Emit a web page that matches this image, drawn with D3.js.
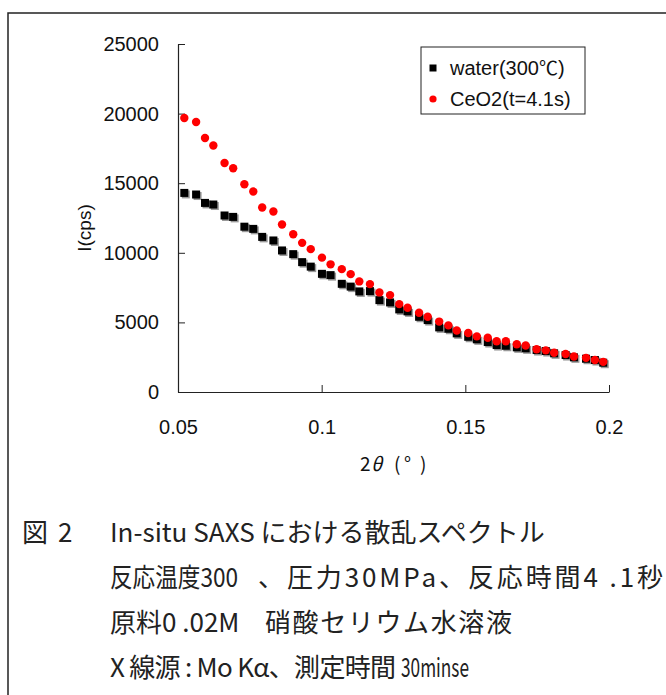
<!DOCTYPE html>
<html><head><meta charset="utf-8">
<script src="https://cdn.jsdelivr.net/npm/d3@7"></script>
<style>body{margin:0;background:#fff}svg{display:block}</style>
</head><body>
<script>
// 2θ (deg)
const xVals = [0.0522,0.0563,0.0594,0.0623,0.0662,0.0692,0.0731,0.0762,0.0793,0.0832,0.0862,0.0901,0.0932,0.0962,0.1001,0.1031,0.1070,0.1101,0.1131,0.1168,0.1201,0.1238,0.1270,0.1299,0.1339,0.1369,0.1409,0.1441,0.1470,0.1510,0.1540,0.1578,0.1609,0.1641,0.1679,0.1710,0.1748,0.1780,0.1809,0.1849,0.1878,0.1920,0.1951,0.1980];
// I (cps)
const waterVals = [14302,14187,13584,13469,12680,12580,11876,11718,11144,10886,10168,9903,9329,9006,8489,8396,7772,7571,7226,7248,6602,6437,5935,5791,5404,5167,4643,4542,4212,3968,3782,3588,3373,3322,3208,3136,3014,2942,2777,2655,2490,2390,2296,2103];
const ceo2Vals = [19684,19397,18249,17703,16455,16074,14926,14402,13254,12967,12034,11338,10714,10262,9652,9171,8826,8468,7944,7750,7154,6961,6315,6049,5691,5404,5059,4786,4413,4234,3997,3897,3645,3645,3430,3337,3071,2992,2820,2727,2547,2454,2296,2167];
const xTicks = [0.05,0.1,0.15,0.2];
const xTickLabels = ["0.05","0.1","0.15","0.2"];
const yTicks = [0,5000,10000,15000,20000,25000];
const yTickLabels = ["0","5000","10000","15000","20000","25000"];
const seriesNames = ["water(300", "CeO2(t=4.1s)"];

const W = 666, H = 695;
const svg = d3.select("body").append("svg").attr("width", W).attr("height", H);
svg.append("rect").attr("width", W).attr("height", H).attr("fill", "#fff");

// frame
svg.append("path").attr("d", `M8,${H} L8,13 L${W},13`).attr("fill","none").attr("stroke","#222").attr("stroke-width",1.5);

const x = d3.scaleLinear().domain([0.05,0.2]).range([178,609]);
const y = d3.scaleLinear().domain([0,25000]).range([392,44]);
const latin = "'Liberation Sans', Arial, sans-serif";
const cjk = "'Noto Sans CJK JP', sans-serif";

const xAxis = d3.axisBottom(x).tickValues(xTicks).tickFormat((d,i)=>xTickLabels[i]).tickSizeInner(-7).tickSizeOuter(0).tickPadding(28);
const gx = svg.append("g").attr("transform","translate(0,392)").call(xAxis);
const yAxis = d3.axisLeft(y).tickValues(yTicks).tickFormat((d,i)=>yTickLabels[i]).tickSizeInner(-7).tickSizeOuter(0).tickPadding(19);
const gy = svg.append("g").attr("transform","translate(178,0)").call(yAxis);
[gx,gy].forEach(g=>{
  g.select(".domain").attr("stroke","#222").attr("stroke-width",1.2);
  g.selectAll(".tick line").attr("stroke","#222").attr("stroke-width",1);
  g.selectAll(".tick text").attr("font-family",latin).attr("font-size",20).attr("fill","#111");
});

// axis titles
svg.append("text").attr("transform","translate(91,228) rotate(-90)").attr("text-anchor","middle")
  .attr("font-family",latin).attr("font-size",19).attr("fill","#111").text("I(cps)");
const xt = svg.append("text").attr("y",471).attr("font-family",cjk).attr("font-size",19).attr("fill","#111");
xt.append("tspan").attr("x",360).text("2");
xt.append("tspan").attr("x",371).attr("font-style","italic").text("θ");
xt.append("tspan").attr("x",394).text("(");
xt.append("tspan").attr("x",404).text("°");
xt.append("tspan").attr("x",420).text(")");

// points
const pts = xVals.map((v,i)=>({x:v, w:waterVals[i], c:ceo2Vals[i]}));
const s = 8;
svg.append("g").selectAll("rect").data(pts).join("rect")
  .attr("x",d=>x(d.x)-s/2+1.5).attr("y",d=>y(d.w)-s/2+1.5).attr("width",s).attr("height",s).attr("fill","#999");
svg.append("g").selectAll("rect").data(pts).join("rect")
  .attr("x",d=>x(d.x)-s/2).attr("y",d=>y(d.w)-s/2).attr("width",s).attr("height",s).attr("fill","#000");
svg.append("g").selectAll("circle").data(pts).join("circle")
  .attr("cx",d=>x(d.x)).attr("cy",d=>y(d.c)).attr("r",4.2).attr("fill","#ff0000");

// legend
const lg = svg.append("g");
lg.append("rect").attr("x",421).attr("y",47).attr("width",164).attr("height",67).attr("fill","#fff").attr("stroke","#222").attr("stroke-width",1);
lg.append("rect").attr("x",429.5).attr("y",64.5).attr("width",7).attr("height",7).attr("fill","#000");
lg.append("circle").attr("cx",433).attr("cy",99).attr("r",3.6).attr("fill","#ff0000");
const t1 = lg.append("text").attr("x",450).attr("y",75).attr("font-family",latin).attr("font-size",20).attr("fill","#111");
t1.append("tspan").text(seriesNames[0]);
t1.append("tspan").attr("font-family",cjk).attr("font-size",19).text("\u2103");
t1.append("tspan").text(")");
lg.append("text").attr("x",450).attr("y",106).attr("font-family",latin).attr("font-size",20).attr("fill","#111").text(seriesNames[1]);

// caption: segments [text, x, textLength?, adjust?]
const capLines = [
  [["図", 22], ["2", 58], ["In-situ SAXS における散乱スペクトル", 110]],
  [["反応温度300", 110, 128, "spacingAndGlyphs"], ["、圧力30MPa、反応時間4 .1秒", 258, 405, "spacing"]],
  [["原料0 .02M", 110], ["硝酸セリウム水溶液", 265, 247, "spacing"]],
  [["X 線源 : Mo Kα、測定時間", 110, 286, "spacing"], ["30minse", 401, 68, "spacingAndGlyphs"]]
];
capLines.forEach((segs,i)=>{
  segs.forEach(([t,sx,len,adj])=>{
    const el = svg.append("text").attr("x",sx).attr("y",542+i*45).attr("font-family",cjk).attr("font-size",26).attr("fill","#222").text(t);
    if (len) el.attr("textLength",len).attr("lengthAdjust", adj);
  });
});
</script>
</body></html>
